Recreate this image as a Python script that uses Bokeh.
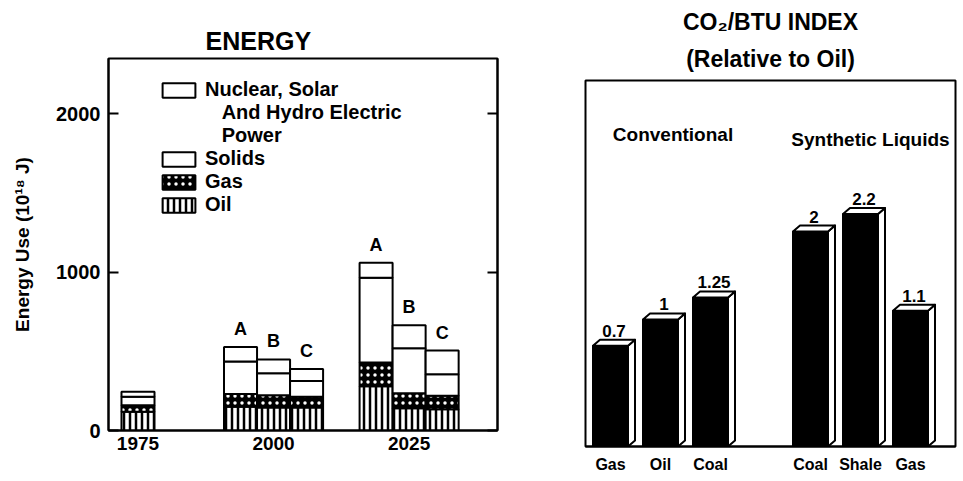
from bokeh.plotting import figure
from bokeh.models import (ColumnDataSource, Range1d, FixedTicker, LinearAxis,
                          Legend, LegendItem, Title)
from bokeh.layouts import row, column
from bokeh.embed import file_html
from bokeh.resources import INLINE
from bokeh.core.properties import value

FONT = "Liberation Sans"

# ---------------- data: left panel (Energy use, 10^18 J) ----------------
bar_years = [1975, 2000, 2000, 2000, 2025, 2025, 2025]
bar_scenarios = ["", "A", "B", "C", "A", "B", "C"]
oil = [118, 150, 146, 145, 280, 140, 135]
gas = [42, 81, 76, 68, 150, 95, 85]
solids = [53, 205, 139, 99, 535, 285, 135]
nuclear = [32, 91, 88, 76, 95, 145, 150]
year_ticks = [1975, 2000, 2025]
energy_ticks = [0, 1000, 2000]
legend_labels = ["Nuclear, Solar", "And Hydro Electric", "Power", "Solids", "Gas", "Oil"]

# ---------------- data: right panel (CO2/BTU index) ----------------
conv_labels = ["Gas", "Oil", "Coal"]
conv_values = [0.7, 1.0, 1.25]
synth_labels = ["Coal", "Shale", "Gas"]
synth_values = [2.0, 2.2, 1.1]
group_names = ["Conventional", "Synthetic Liquids"]

# ======================= LEFT PANEL =======================
BAR_W = 6.09
offs = {"": 0, "A": -1, "B": 0, "C": 1}
xs = [y + offs[s] * BAR_W for y, s in zip(bar_years, bar_scenarios)]
totals = [o + g + s + n for o, g, s, n in zip(oil, gas, solids, nuclear)]
src = ColumnDataSource(dict(x=xs, oil=oil, gas=gas, solids=solids,
                            nuclear=nuclear, total=totals, scen=bar_scenarios))

p1 = figure(width=545, height=478, output_backend="svg", toolbar_location=None,
            x_range=Range1d(1969.56, 2041.3), y_range=Range1d(0, 2350),
            min_border_left=108, min_border_right=48, min_border_top=58,
            min_border_bottom=48, title="ENERGY")
p1.title.align = "left"
p1.title.offset = 97
p1.title.standoff = 7
p1.title.text_font = FONT
p1.title.text_font_size = "25px"
p1.title.text_font_style = "bold"
p1.title.text_color = "black"

rs = p1.vbar_stack(["oil", "gas", "solids", "nuclear"], x="x", width=BAR_W, source=src,
                   fill_color=["white", "black", "white", "white"],
                   line_color="black", line_width=2,
                   hatch_pattern=["vertical_line", "dot", "blank", "blank"],
                   hatch_color=["black", "white", "black", "black"],
                   hatch_scale=[6, 7, 12, 12],
                   hatch_weight=[2.5, 0.7, 1, 1])
r_oil, r_gas, r_sol, r_nuc = rs

p1.text(x="x", y="total", text="scen", source=src, text_align="center",
        text_baseline="bottom", y_offset=-8, text_font=value(FONT),
        text_font_style="bold", text_font_size="18px", text_color="black")

r_blank = p1.vbar(x=[], top=[], width=1, fill_alpha=0, line_alpha=0)

indent = "\u00a0\u00a0\u00a0"
legend = Legend(items=[
    LegendItem(label=legend_labels[0], renderers=[r_nuc]),
    LegendItem(label=indent + legend_labels[1], renderers=[r_blank]),
    LegendItem(label=indent + legend_labels[2], renderers=[r_blank]),
    LegendItem(label=legend_labels[3], renderers=[r_sol]),
    LegendItem(label=legend_labels[4], renderers=[r_gas]),
    LegendItem(label=legend_labels[5], renderers=[r_oil]),
], location=(50, 214), glyph_width=41, glyph_height=18, label_height=22,
   spacing=0, padding=0, margin=0, label_standoff=6,
   border_line_alpha=0, background_fill_alpha=0,
   label_text_font=FONT, label_text_font_style="bold", label_text_font_size="20px",
   label_text_color="black")
p1.add_layout(legend)

p1.yaxis.ticker = FixedTicker(ticks=energy_ticks)
p1.yaxis.major_tick_in = 10
p1.yaxis.major_tick_out = 0
p1.yaxis.minor_tick_in = 0
p1.yaxis.minor_tick_out = 0
p1.yaxis.major_tick_line_width = 2
p1.yaxis.axis_line_width = 2
p1.yaxis.major_label_text_font = FONT
p1.yaxis.major_label_text_font_style = "bold"
p1.yaxis.major_label_text_font_size = "20px"
p1.yaxis.major_label_text_color = "black"
p1.yaxis.major_label_standoff = 8
p1.yaxis.axis_label = "Energy Use (10¹⁸ J)"
p1.yaxis.axis_label_text_font = FONT
p1.yaxis.axis_label_text_font_style = "bold"
p1.yaxis.axis_label_text_font_size = "19px"
p1.yaxis.axis_label_text_color = "black"
p1.yaxis.axis_label_standoff = 20

rax = LinearAxis(ticker=FixedTicker(ticks=energy_ticks), major_label_text_color=None,
                 major_tick_in=10, major_tick_out=0, minor_tick_in=0, minor_tick_out=0,
                 major_tick_line_width=2, axis_line_width=2)
p1.add_layout(rax, "right")

p1.xaxis.ticker = FixedTicker(ticks=year_ticks)
p1.xaxis.major_label_overrides = {y: str(y) for y in year_ticks}
p1.xaxis.major_tick_in = 0
p1.xaxis.major_tick_out = 0
p1.xaxis.minor_tick_in = 0
p1.xaxis.minor_tick_out = 0
p1.xaxis.axis_line_width = 2
p1.xaxis.major_label_text_font = FONT
p1.xaxis.major_label_text_font_style = "bold"
p1.xaxis.major_label_text_font_size = "19px"
p1.xaxis.major_label_text_color = "black"
p1.xaxis.major_label_standoff = 6

# ======================= RIGHT PANEL =======================
values2 = conv_values + synth_values
labels2 = conv_labels + synth_labels
xs2 = [i + 1 for i in range(len(conv_values))] + \
      [i + 2 + len(conv_values) for i in range(len(synth_values))]

X0, X1 = 0.5, 7.9
Y0, Y1 = -0.446, 3.72
FW, FH = 370, 366
W2 = 0.7
DX = 7 * (X1 - X0) / FW
DY = 6 * (Y1 - Y0) / FH

p2 = figure(width=418, height=478, output_backend="svg", toolbar_location=None,
            x_range=Range1d(X0, X1), y_range=Range1d(Y0, Y1),
            min_border_left=40, min_border_right=8, min_border_top=80,
            min_border_bottom=32, title="CO₂/BTU INDEX")
p2.title.align = "center"
p2.title.standoff = 0
p2.title.text_font = FONT
p2.title.text_font_size = "23px"
p2.title.text_font_style = "bold"
p2.title.text_color = "black"
p2.add_layout(Title(text="(Relative to Oil)", align="center", standoff=18,
                    text_font=FONT, text_font_size="23px", text_font_style="bold",
                    text_color="black"), "above")

p2.vbar(x=xs2, top=values2, bottom=Y0, width=W2, fill_color="black",
        line_color="black", line_width=2)

side_x, side_y, top_x, top_y = [], [], [], []
for x, v in zip(xs2, values2):
    r = x + W2 / 2
    l = x - W2 / 2
    side_x.append([r, r + DX, r + DX, r])
    side_y.append([Y0, Y0 + DY, v + DY, v])
    top_x.append([l, l + DX, r + DX, r])
    top_y.append([v, v + DY, v + DY, v])
p2.patches(side_x, side_y, fill_color="white", line_color="black", line_width=2,
           line_join="round")
p2.patches(top_x, top_y, fill_color="white", line_color="black", line_width=2,
           line_join="round")

p2.text(x=[x + DX / 2 for x in xs2], y=[v + DY for v in values2],
        text=[f"{v:g}" for v in values2], text_align="center", text_baseline="bottom",
        y_offset=-3, text_font=value(FONT), text_font_style="bold",
        text_font_size="17px", text_color="black")

n1 = len(conv_values)
grp_x = [sum(xs2[:n1]) / n1 + 0.25, sum(xs2[n1:]) / len(synth_values) + 0.2]
p2.text(x=grp_x, y=[3.1, 3.05], text=group_names, text_align="center",
        text_baseline="middle", text_font=value(FONT), text_font_style="bold",
        text_font_size="19px", text_color="black")

p2.yaxis.visible = False
p2.xaxis.ticker = FixedTicker(ticks=xs2)
p2.xaxis.major_label_overrides = {x: lab for x, lab in zip(xs2, labels2)}
p2.xaxis.major_tick_in = 0
p2.xaxis.major_tick_out = 0
p2.xaxis.minor_tick_in = 0
p2.xaxis.minor_tick_out = 0
p2.xaxis.axis_line_width = 2
p2.xaxis.major_label_text_font = FONT
p2.xaxis.major_label_text_font_style = "bold"
p2.xaxis.major_label_text_font_size = "16px"
p2.xaxis.major_label_text_color = "black"
p2.xaxis.major_label_standoff = 9

for p in (p1, p2):
    p.xgrid.grid_line_color = None
    p.ygrid.grid_line_color = None
    p.outline_line_color = "black"
    p.outline_line_width = 2
    p.outline_line_alpha = 1
    p.background_fill_color = "white"
    p.border_fill_color = "white"

layout = row(p1, column(p2))
open("out.html", "w").write(file_html(layout, INLINE))
